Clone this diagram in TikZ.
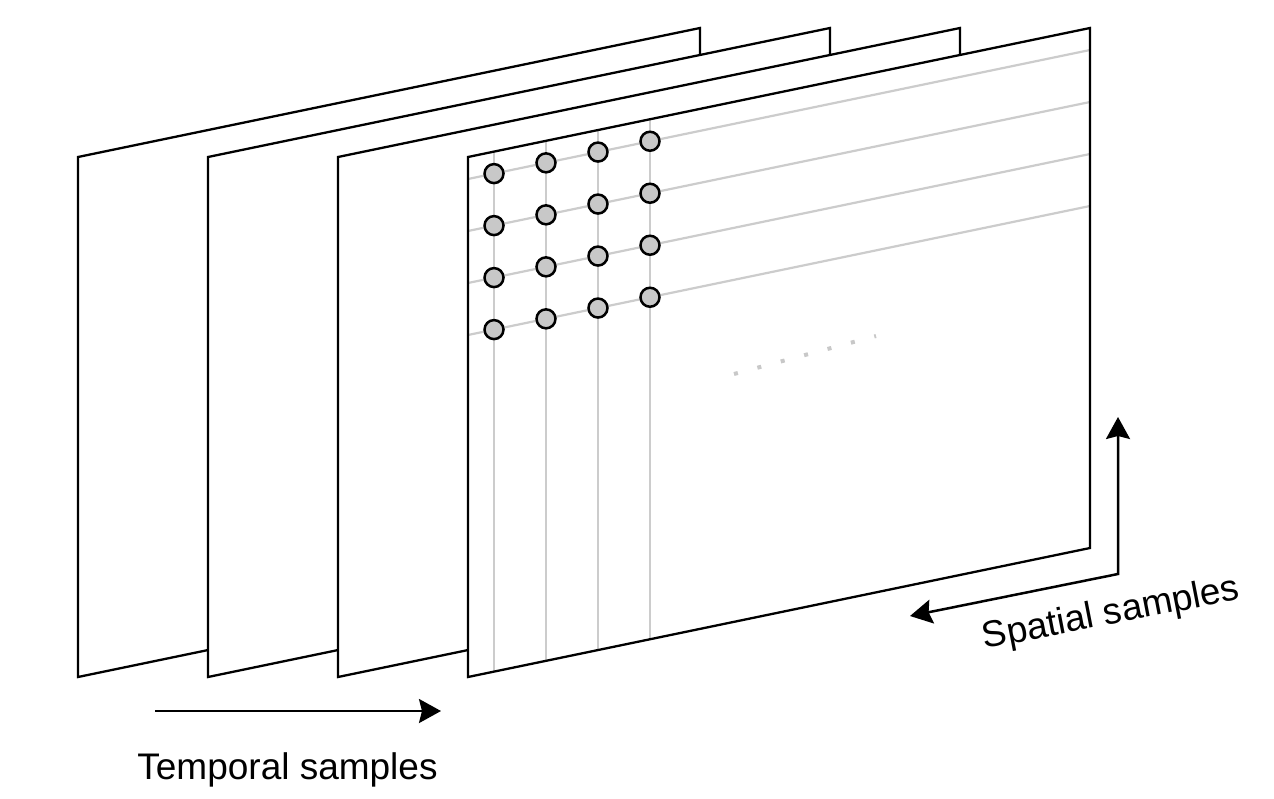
\documentclass[tikz,border=0pt]{standalone}
\usepackage{fontspec}
\setmainfont{Liberation Sans}
\usetikzlibrary{arrows.meta}
\definecolor{gridgrey}{HTML}{CCCCCC}
\definecolor{dotgrey}{HTML}{C8C8C8}
\begin{document}
\begin{tikzpicture}[x=0.5pt,y=-0.5pt,
  frame/.style={draw=black,fill=white,line width=1.15pt,line join=miter},
  gridline/.style={draw=gridgrey,line width=1.1pt},
  sample/.style={circle,draw=black,fill=dotgrey,line width=1.25pt,minimum size=9.5pt,inner sep=0pt},
  arr/.style={line width=1.25pt},
  tip/.tip={Stealth[length=11pt,width=12pt,inset=1.5pt]},
  lbl/.style={font=\fontsize{18.5}{22}\selectfont,inner sep=0pt}]
\useasboundingbox (0,0) rectangle (1274,798);
% back frames
\foreach \i in {0,1,2}{
  \begin{scope}[shift={(78+130*\i,157)}, x={(0.5pt,0.1037pt)}, y={(0pt,-0.5pt)}]
    \draw[frame] (0,0) -- (622,0) -- (622,520) -- (0,520) -- cycle;
  \end{scope}
}
% front frame with sample grid
\begin{scope}[shift={(468,157)}, x={(0.5pt,0.1037pt)}, y={(0pt,-0.5pt)}]
  \fill[white] (0,0) -- (622,0) -- (622,520) -- (0,520) -- cycle;
  \foreach \v in {22,74,126,178} \draw[gridline] (0,\v) -- (622,\v);
  \foreach \u in {26,78,130,182} \draw[gridline] (\u,0) -- (\u,520);
  \draw[frame,fill=none] (0,0) -- (622,0) -- (622,520) -- (0,520) -- cycle;
  \foreach \u [count=\c] in {26,78,130,182}{
    \foreach \v [count=\r] in {22,74,126,178}{
      \node[sample] (s\c\r) at (\u,\v) {};
    }
  }
\end{scope}
% dotted ellipsis
\coordinate (d1) at (734,374);
\coordinate (d2) at (876,336);
\draw[dotgrey,line width=2pt,dash pattern=on 2pt off 10.1pt] (d1) -- (d2);
% temporal arrow
\coordinate (t1) at (155,711);
\coordinate (t2) at (441,711);
\draw[arr,-tip] (t1) -- (t2);
\node[lbl,anchor=base] (tl) at (287.5,779) {Temporal samples};
% spatial arrows
\coordinate (sa) at (910,616);
\coordinate (sc) at (1118,574);
\coordinate (sb) at (1118,417);
\draw[arr,tip-tip,line join=miter] (sa) -- (sc) -- (sb);
\node[lbl,anchor=base,rotate=11] (sl) at (1113,624) {Spatial samples};
\end{tikzpicture}
\end{document}
